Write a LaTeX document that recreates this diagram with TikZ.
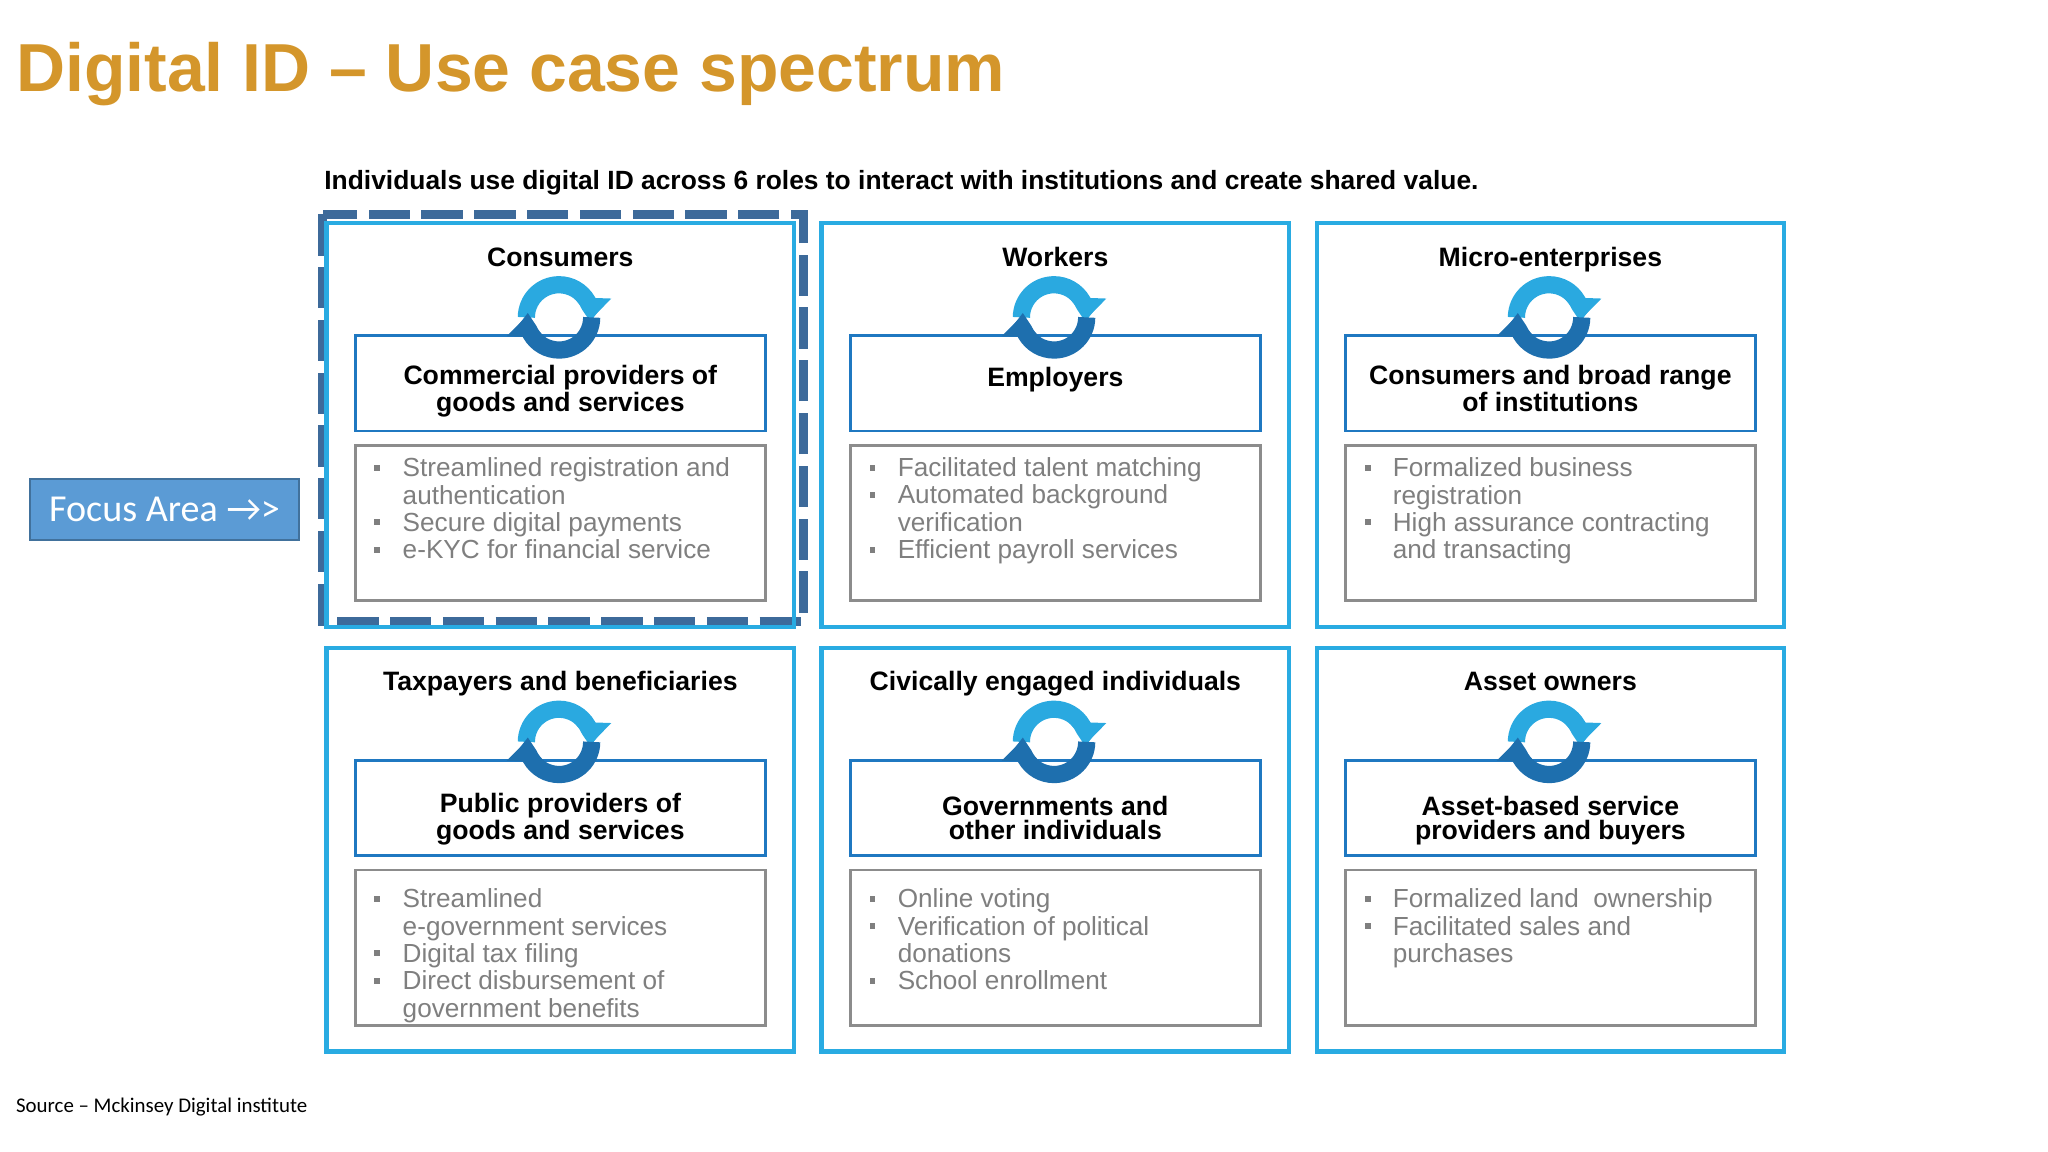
\documentclass[tikz,border=0pt]{standalone}
\usepackage{fontspec}
\setmainfont{Liberation Sans}
\newfontfamily\carl{Carlito}
\usetikzlibrary{arrows.meta}
\definecolor{gold}{HTML}{D4962B}
\definecolor{lblue}{HTML}{29ABE2}
\definecolor{mblue}{HTML}{1F78C1}
\definecolor{dblue}{HTML}{3D6A9A}
\definecolor{gtxt}{HTML}{7F7F7F}
\definecolor{gbox}{HTML}{8C8C8C}
\definecolor{fblue}{HTML}{5B9BD5}
\definecolor{fbord}{HTML}{41719C}
\definecolor{ctop}{HTML}{2AA9E0}
\definecolor{cbot}{HTML}{1E6FAE}
\tikzset{
  outer/.style={draw=lblue,line width=1.8pt},
  inner/.style={draw=mblue,line width=1.2pt,fill=white},
  gray/.style={draw=gbox,line width=1.2pt},
  head/.style={anchor=base,inner sep=0pt,font=\bfseries\fontsize{11.6}{10.8}\selectfont,align=center},
  bl/.style={anchor=north west,inner sep=0pt,align=left,text=gtxt,font=\fontsize{11.4}{12}\selectfont},
  sq/.style={fill=gtxt,minimum size=2.6pt,inner sep=0pt},
  cyc/.pic={
    \draw[ctop,line width=7.5pt,-{Triangle[width=16pt,length=9pt]}] (180:25) arc (180:362:25);
    \draw[cbot,line width=7.5pt,-{Triangle[width=16pt,length=9pt]}] (0:25) arc (0:182:25);
  }
}
\begin{document}
\begin{tikzpicture}[x=0.02cm,y=-0.02cm]
\useasboundingbox (0,0) rectangle (1568,882);
\node[anchor=base west,inner sep=0pt,text=gold,font=\bfseries\fontsize{29.6}{32}\selectfont] (title) at (12,70) {Digital ID – Use case spectrum};
\node[anchor=base west,inner sep=0pt,font=\bfseries\fontsize{11.5}{14}\selectfont] (sub) at (248,145) {Individuals use digital ID across 6 roles to interact with institutions and create shared value.};
\node[anchor=base west,inner sep=0pt,font=\carl\fontsize{9.1}{11}\selectfont] (src) at (12,852) {Source – Mckinsey Digital institute};
\node[draw=fbord,fill=fblue,line width=0.8pt,minimum width=206*0.02cm,minimum height=47*0.02cm,text=white,font=\carl\fontsize{16.6}{20}\selectfont] (focus) at (126,390) {Focus Area →>};
\draw[dblue,line width=4pt,dash pattern=on 18pt off 5pt] (247,164) rectangle (615,476);
% boxes
\foreach \x/\y/\n in {250/171/a,629/171/b,1008/171/c,250/496/d,629/496/e,1008/496/f}{
  \draw[outer] (\x,\y) rectangle ++(358,309);
  \draw[inner] (\x+22,\y+86) rectangle ++(314,73);
  \draw[gray] (\x+22,\y+170) rectangle ++(314,119);
  \pic at (\x+178,\y+72) {cyc};
}
% headers
\node[head] (h1) at (429,204) {Consumers};
\node[head] (h2) at (808,204) {Workers};
\node[head] (h3) at (1187,204) {Micro-enterprises};
\node[head] (h4) at (429,529) {Taxpayers and beneficiaries};
\node[head] (h5) at (808,529) {Civically engaged individuals};
\node[head] (h6) at (1187,529) {Asset owners};
\node[head] (i1) at (429,315) {Commercial providers of\\goods and services};
\node[head] (i2) at (808,296) {Employers};
\node[head] (i3) at (1187,315) {Consumers and broad range\\of institutions};
\node[head] (i4) at (429,643) {Public providers of\\goods and services};
\node[head] (i5) at (808,643) {Governments and\\other individuals};
\node[head] (i6) at (1187,643) {Asset-based service\\providers and buyers};
% bullets
\newcommand\bul[3]{\node[sq] at (#1-19,#2+8) {}; \node[bl] at (#1,#2) {#3};}
\bul{308}{350}{Streamlined registration and\\authentication}
\bul{308}{392}{Secure digital payments}
\bul{308}{413}{e-KYC for financial service}
\bul{687}{350}{Facilitated talent matching}
\bul{687}{371}{Automated background\\verification}
\bul{687}{413}{Efficient payroll services}
\bul{1066}{350}{Formalized business\\registration}
\bul{1066}{392}{High assurance contracting\\and transacting}
\bul{308}{680}{Streamlined\\e-government services}
\bul{308}{722}{Digital tax filing}
\bul{308}{743}{Direct disbursement of\\government benefits}
\bul{687}{680}{Online voting}
\bul{687}{701}{Verification of political\\donations}
\bul{687}{743}{School enrollment}
\bul{1066}{680}{Formalized land\ \ ownership}
\bul{1066}{701}{Facilitated sales and\\purchases}
\end{tikzpicture}
\end{document}
